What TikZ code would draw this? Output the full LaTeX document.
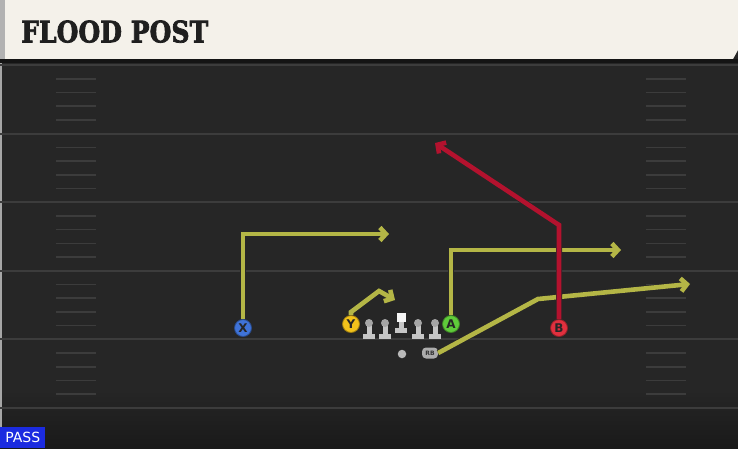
\documentclass[tikz,border=0pt]{standalone}
\usepackage{fontspec}
\setmainfont{DejaVu Sans}
\newfontfamily\titlefont[FakeBold=2.5]{DejaVu Serif}
\usepackage{xcolor}
\usepackage{tikz}
\usetikzlibrary{arrows.meta, positioning}

\definecolor{fieldbg}{HTML}{262626}
\definecolor{yardline}{HTML}{3C3C3C}
\definecolor{headbg}{HTML}{F4F1EA}
\definecolor{routeyel}{HTML}{B4B646}
\definecolor{routered}{HTML}{B3122E}
\definecolor{xblue}{HTML}{3F73D8}
\definecolor{yyellow}{HTML}{F2C21B}
\definecolor{agreen}{HTML}{5FCC3A}
\definecolor{bred}{HTML}{E0303E}
\definecolor{passblue}{HTML}{1B2BE0}

\begin{document}
\begin{tikzpicture}[x=1pt, y=-1pt,
    route/.style={line width=4.6pt, #1, line join=miter,
        -{Straight Barb[length=6pt, width=13pt]},
        preaction={draw=black!85, line width=6pt}},
    player/.style={circle, fill=#1, draw=#1!65!black, line width=0.8pt,
        minimum size=17pt, inner sep=0pt, text=black!85,
        font=\bfseries\fontsize{12}{12}\selectfont},
    lineman/.style={fill=gray!45}]
    \useasboundingbox (0,0) rectangle (738,448);

    % Field and header
    \fill[fieldbg] (0,0) rectangle (738,448);
    \shade[top color=fieldbg, bottom color=black!90] (0,390) rectangle (738,448);
    \fill[black!35] (0,0) rectangle (2,448);
    \fill[headbg] (5,0) -- (738,0) -- (738,50) -- (733,59) -- (5,59) -- cycle;
    \fill[gray!60] (0,0) rectangle (5,59);
    \fill[black!92] (0,59) rectangle (738,63);
    \node[anchor=south west, inner sep=0pt, text=black!88] (title) at (21,43)
        {\resizebox{187pt}{22pt}{\titlefont\bfseries FLOOD POST}};

    % Yard lines and hash marks
    \foreach \k in {0,...,5} {
        \draw[yardline, line width=2pt] (0,65+68.6*\k) -- (738,65+68.6*\k);
    }
    \foreach \k in {0,...,4} {
        \foreach \j in {1,...,4} {
            \draw[yardline, line width=1.6pt] (56,65+68.6*\k+13.7*\j) -- (96,65+68.6*\k+13.7*\j);
            \draw[yardline, line width=1.6pt] (646,65+68.6*\k+13.7*\j) -- (686,65+68.6*\k+13.7*\j);
        }
    }

    % Offensive line
    \foreach \lx in {369,385,418,435} {
        \fill[lineman] (\lx-2.5,323) rectangle (\lx+2.5,335);
        \fill[lineman] (\lx-6,334) rectangle (\lx+6,339);
        \fill[gray!70] (\lx,323) circle (4pt);
    }
    \fill[lineman] (398.5,318) rectangle (403.5,330);
    \fill[lineman] (395,328) rectangle (407,333);
    \node[fill=white!92!gray, minimum size=9pt, inner sep=0pt] (C) at (401,317) {};

    % Players
    \node[player=xblue] (X) at (243,328) {X};
    \node[player=yyellow] (Y) at (351,324) {Y};
    \node[player=agreen] (A) at (451,324) {A};
    \node[player=bred] (B) at (559,328) {B};
    \node[circle, fill=gray!55, minimum size=8.5pt, inner sep=0pt] (QB) at (402,354) {};
    \node[rounded corners=4pt, fill=gray!65, minimum width=16pt, minimum height=11pt,
        inner sep=0pt, text=black!80, font=\bfseries\fontsize{6}{6}\selectfont] (RB) at (430,353) {RB};

    % Route break points
    \coordinate (xcut) at (243,234);
    \coordinate (xend) at (389,234);
    \coordinate (ystem) at (351,312);
    \coordinate (ycut) at (379,291);
    \coordinate (yend) at (395,300);
    \coordinate (acut) at (451,250);
    \coordinate (aend) at (621,250);
    \coordinate (rbcut) at (538,299);
    \coordinate (rbend) at (690,284);
    \coordinate (bcut) at (559,225);
    \coordinate (bend) at (435,143);

    % Routes
    \draw[route=routeyel] (X.north) -- (xcut) -- (xend);
    \draw[route=routeyel] (Y.north) -- (ystem) -- (ycut) -- (yend);
    \draw[route=routeyel] (A.north) -- (acut) -- (aend);
    \draw[route=routeyel] (RB.east) -- (rbcut) -- (rbend);
    \draw[route=routered] (B.north) -- (bcut) -- (bend);

    % Play type tag
    \node[fill=passblue, text=white, anchor=south west, minimum width=45pt, minimum height=21pt,
        inner sep=0pt, font=\fontsize{14}{14}\selectfont] (pass) at (0,448) {PASS};
\end{tikzpicture}
\end{document}
